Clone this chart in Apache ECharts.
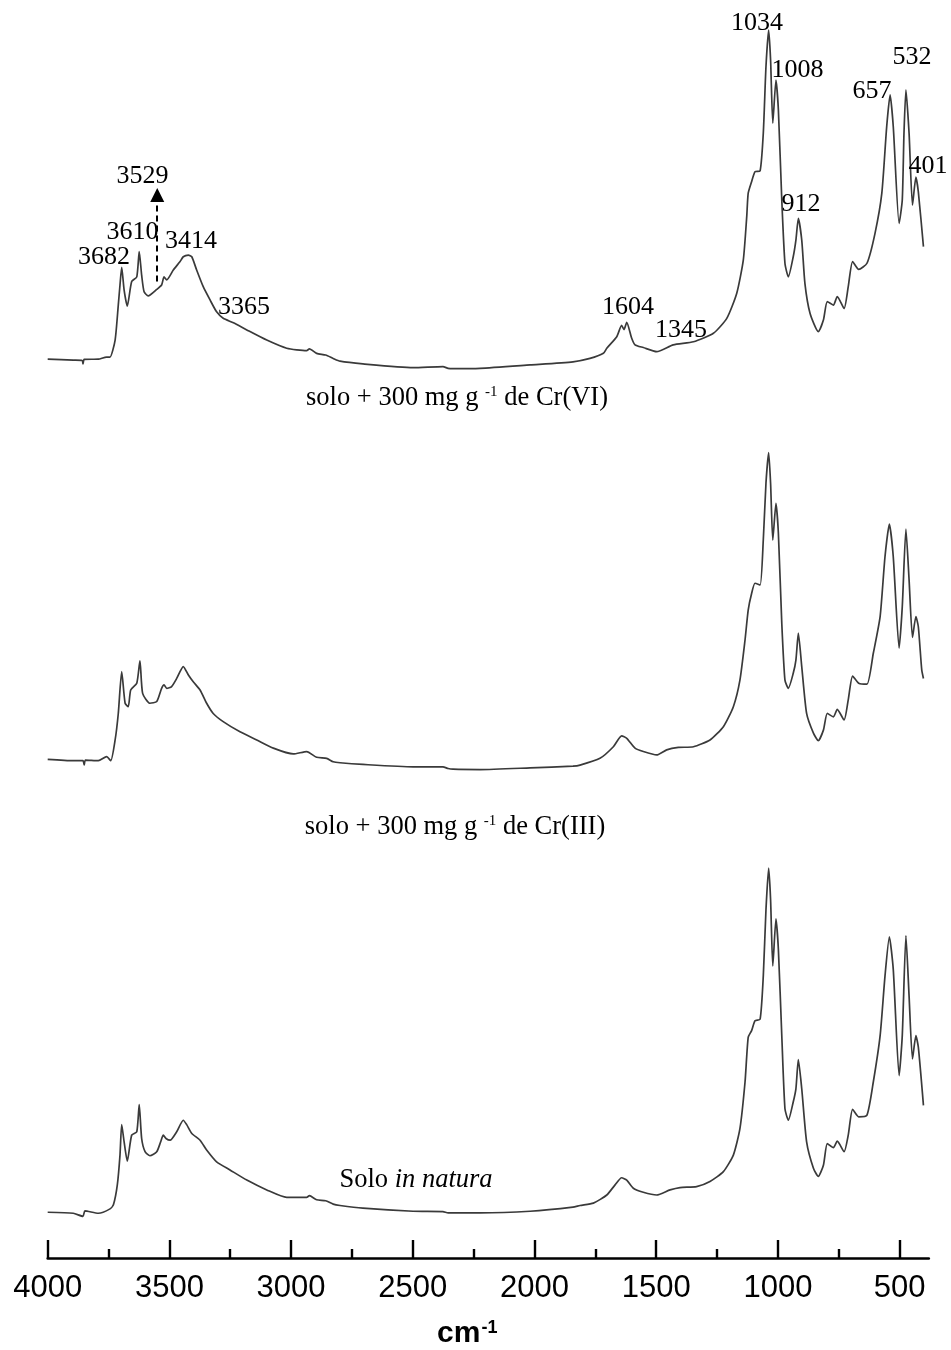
<!DOCTYPE html>
<html><head><meta charset="utf-8">
<script src="https://cdn.jsdelivr.net/npm/echarts@6/dist/echarts.min.js"></script>
<style>html,body{margin:0;padding:0;background:#fff}#c{width:951px;height:1350px}</style>
</head><body><div id="c"></div>
<script>
// ---- data (wavenumber in cm-1, normalised absorbance) ----
const wnCr6 = [4000,3895,3858,3855,3850,3792,3758,3744,3723,3710,3703,3696,3686,3673,3655,3634,3624,3614,3604,3587,3552,3532,3522,3511,3484,3456,3443,3422,3408,3388,3361,3333,3306,3279,3237,3182,3100,3018,2936,2925,2895,2858,2827,2799,2705,2499,2376,2355,2335,2224,2018,1842,1772,1717,1703,1662,1642,1632,1621,1601,1587,1553,1498,1430,1347,1265,1210,1169,1142,1128,1122,1108,1094,1073,1060,1049,1038,1030,1021,1008,998,984,971,957,937,926,916,902,889,868,834,813,797,772,756,728,711,693,668,634,601,573,553,539,526,502,489,482,474,461,447,433,423,402];
const absCr6 = [0.032,0.029,0.028,0.018,0.031,0.032,0.038,0.038,0.088,0.191,0.25,0.302,0.235,0.188,0.26,0.274,0.348,0.279,0.23,0.218,0.237,0.25,0.274,0.265,0.294,0.319,0.333,0.338,0.333,0.294,0.245,0.206,0.171,0.152,0.139,0.118,0.088,0.064,0.057,0.062,0.049,0.044,0.034,0.026,0.018,0.007,0.010,0.005,0.004,0.005,0.015,0.024,0.034,0.049,0.064,0.098,0.131,0.119,0.14,0.094,0.074,0.066,0.054,0.074,0.083,0.108,0.152,0.226,0.324,0.451,0.52,0.554,0.583,0.586,0.696,0.892,1.0,0.912,0.726,0.853,0.765,0.5,0.314,0.274,0.333,0.382,0.446,0.382,0.255,0.167,0.113,0.147,0.201,0.191,0.216,0.181,0.245,0.319,0.296,0.314,0.402,0.52,0.716,0.809,0.716,0.431,0.5,0.696,0.824,0.696,0.485,0.567,0.524,0.363];

const wnCr3 = [4000,3895,3855,3850,3845,3792,3758,3741,3723,3710,3696,3682,3669,3659,3634,3621,3610,3580,3552,3532,3522,3511,3491,3470,3443,3422,3402,3374,3347,3320,3279,3210,3141,3073,2991,2936,2895,2854,2827,2799,2705,2499,2376,2355,2335,2224,2018,1842,1813,1731,1676,1642,1621,1587,1553,1498,1457,1409,1347,1279,1224,1183,1156,1135,1122,1108,1094,1073,1060,1049,1038,1030,1021,1008,998,984,971,957,937,926,916,902,882,854,834,813,797,772,756,728,711,693,668,634,608,580,560,542,526,502,489,474,461,447,433,423,409,402];
const absCr3 = [0.096,0.092,0.092,0.080,0.094,0.092,0.104,0.092,0.153,0.231,0.354,0.261,0.251,0.3,0.32,0.386,0.29,0.261,0.266,0.305,0.315,0.305,0.31,0.334,0.369,0.344,0.324,0.3,0.261,0.231,0.207,0.177,0.153,0.129,0.112,0.119,0.102,0.099,0.089,0.086,0.081,0.074,0.074,0.069,0.067,0.066,0.071,0.076,0.079,0.099,0.133,0.165,0.158,0.129,0.119,0.109,0.124,0.131,0.133,0.153,0.192,0.251,0.329,0.447,0.535,0.584,0.614,0.609,0.741,0.908,0.998,0.908,0.741,0.849,0.761,0.496,0.329,0.305,0.349,0.388,0.467,0.369,0.231,0.173,0.151,0.182,0.231,0.221,0.243,0.212,0.271,0.341,0.32,0.317,0.408,0.516,0.692,0.788,0.692,0.423,0.545,0.773,0.624,0.455,0.516,0.486,0.359,0.334];

const wnNat = [4000,3895,3855,3847,3792,3744,3730,3714,3703,3696,3686,3673,3655,3634,3624,3614,3600,3580,3552,3536,3525,3514,3497,3470,3443,3429,3408,3374,3347,3306,3251,3182,3100,3018,2936,2925,2895,2858,2827,2799,2705,2499,2376,2355,2224,2018,1842,1813,1758,1703,1669,1642,1621,1594,1553,1498,1443,1402,1334,1279,1224,1183,1156,1135,1122,1108,1094,1073,1060,1049,1038,1030,1021,1008,998,984,971,957,937,926,916,902,882,854,834,813,797,772,756,728,711,693,668,634,608,580,560,542,526,502,489,474,461,447,433,423,402];
const absNat = [-0.018,-0.021,-0.030,-0.014,-0.021,-0.008,0.004,0.063,0.151,0.241,0.19,0.133,0.21,0.22,0.3,0.2,0.161,0.149,0.161,0.19,0.21,0.2,0.195,0.22,0.254,0.241,0.215,0.195,0.166,0.131,0.107,0.077,0.048,0.026,0.026,0.031,0.019,0.016,0.006,0.002,-0.006,-0.015,-0.016,-0.020,-0.020,-0.015,-0.003,0.002,0.009,0.033,0.063,0.084,0.077,0.053,0.041,0.033,0.048,0.055,0.058,0.073,0.102,0.151,0.229,0.367,0.499,0.519,0.548,0.553,0.68,0.876,0.999,0.906,0.71,0.849,0.759,0.504,0.288,0.254,0.308,0.347,0.433,0.347,0.19,0.112,0.088,0.121,0.185,0.173,0.192,0.161,0.21,0.286,0.264,0.269,0.367,0.504,0.68,0.796,0.7,0.386,0.504,0.8,0.621,0.435,0.504,0.47,0.298];

const majorTicks = [4000,3500,3000,2500,2000,1500,1000,500];
const minorTicks = [3750,3250,2750,2250,1750,1250,750];
const peakLabels = ['3682','3610','3529','3414','3365','1604','1345','1034','1008','912','657','532','401'];
const sampleTitles = ['solo + 300 mg g {sup|-1} de Cr(VI)','solo + 300 mg g {sup|-1} de Cr(III)','Solo {it|in natura}'];

// ---- layout / build ----
const zip = (xs, ys) => xs.map((x, i) => [x, ys[i]]);
const X_MIN = 380, X_MAX = 4000, Y_MIN = -0.1, Y_MAX = 1.08;
const GRID_LEFT = 47.7, GRID_W = 881.1, PANEL_H = 401.2;
const panelTops = [2.8, 424.8, 840.8];
// where each peak annotation sits, in (cm-1, absorbance) of the top panel
const labelAnchors = [[3769,0.333],[3652,0.406],[3611,0.569],[3411,0.379],[3193,0.185],[1616,0.186],[1398,0.118],[1086,1.019],[919,0.881],[905,0.488],[613,0.821],[449,0.921],[383,0.6]];

const lineColor = '#3a3a3a';
const serif = 'Liberation Serif, Times New Roman, serif';
const sans = 'Liberation Sans, Arial, sans-serif';

const grids = panelTops.map(t => ({left: GRID_LEFT, width: GRID_W, top: t, height: PANEL_H, containLabel: false}));
const hiddenX = i => ({type:'value', gridIndex:i, min:X_MIN, max:X_MAX, inverse:true, show:false});
const xAxes = [hiddenX(0), hiddenX(1),
  {type:'value', gridIndex:2, min:X_MIN, max:X_MAX, inverse:true, position:'bottom', offset:18,
   axisLine:{show:true, onZero:false, lineStyle:{color:'#000', width:2.6}},
   axisTick:{show:true, inside:true, length:18, customValues:majorTicks, lineStyle:{color:'#000', width:2.4}},
   axisLabel:{show:true, customValues:majorTicks, margin:15, fontSize:31, fontFamily:sans, color:'#000', formatter: v => String(v)},
   splitLine:{show:false},
   name:'cm{sup|-1}', nameLocation:'middle', nameGap:61,
   nameTextStyle:{fontSize:30, fontWeight:'bold', fontFamily:sans, color:'#000', padding:[0,42,0,0],
     rich:{sup:{fontSize:18, fontWeight:'bold', fontFamily:sans, color:'#000', verticalAlign:'top', padding:[0,0,0,1]}}}},
  {type:'value', gridIndex:2, min:X_MIN, max:X_MAX, inverse:true, position:'bottom', offset:18,
   axisLine:{show:false, onZero:false}, axisLabel:{show:false}, splitLine:{show:false},
   axisTick:{show:true, inside:true, length:9, customValues:minorTicks, lineStyle:{color:'#000', width:2.4}}}
];
const yAxes = [0,1,2].map(i => ({type:'value', gridIndex:i, min:Y_MIN, max:Y_MAX, show:false}));

const spectra = [zip(wnCr6, absCr6), zip(wnCr3, absCr3), zip(wnNat, absNat)];
const series = spectra.map((d, i) => ({
  type:'line', xAxisIndex:i, yAxisIndex:i, data:d, showSymbol:false, symbol:'none',
  smooth:0.2, clip:false, silent:true, animation:false,
  lineStyle:{color:lineColor, width:1.7}
}));
series[0].markPoint = {
  silent:true, symbol:'circle', symbolSize:1, itemStyle:{color:'rgba(0,0,0,0)'},
  label:{show:true, position:'inside', formatter:'{b}', color:'#000', fontFamily:serif, fontSize:26},
  data: peakLabels.map((t, i) => ({name:t, coord:labelAnchors[i]}))
};
series[0].markLine = {
  silent:true, symbol:['none','triangle'], symbolSize:14, animation:false,
  label:{show:false}, lineStyle:{type:[6,4], color:'#000', width:2},
  data:[[{coord:[3550,0.26]},{coord:[3550,0.515]}]]
};

const richT = {
  sup:{fontSize:15, fontFamily:serif, fill:'#000', verticalAlign:'top'},
  it:{fontSize:26.5, fontFamily:serif, fontStyle:'italic', fill:'#000'}
};
const titlePos = [[457,398],[455,827],[416,1180]];
const graphic = sampleTitles.map((t, i) => ({
  type:'text', x:titlePos[i][0], y:titlePos[i][1], silent:true,
  style:{text:t, fontSize:26.5, fontFamily:serif, fill:'#000', align:'center', verticalAlign:'middle', rich:richT}
}));

const chart = echarts.init(document.getElementById('c'), null, {renderer:'canvas'});
chart.setOption({animation:false, backgroundColor:'#fff', grid:grids, xAxis:xAxes, yAxis:yAxes, series, graphic});
</script></body></html>
